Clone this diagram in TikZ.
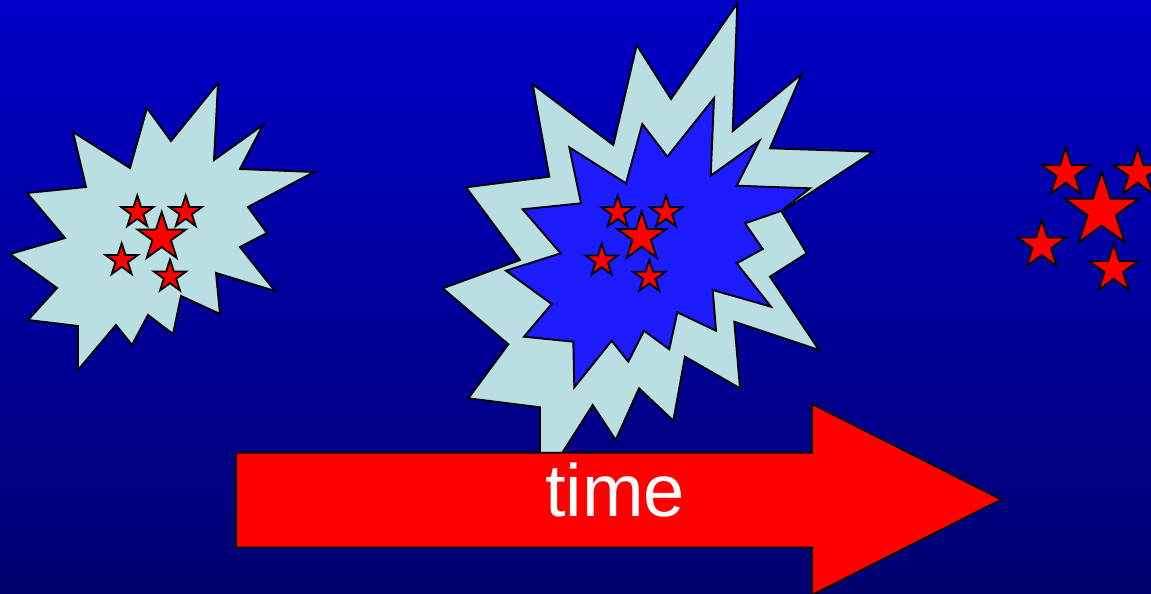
\documentclass[tikz,border=0pt]{standalone}
\usepackage{fontspec}
\setmainfont{Liberation Sans}
\usetikzlibrary{shapes.geometric}
\definecolor{bgtop}{RGB}{0,0,200}
\definecolor{bgbot}{RGB}{0,0,112}
\definecolor{blast}{RGB}{185,223,227}
\definecolor{core}{RGB}{28,28,255}
\definecolor{starred}{RGB}{255,0,0}
\tikzset{
  blastshape/.style={draw=black, line width=1.9pt, fill=blast, line join=miter},
  coreshape/.style={draw=black, line width=1.9pt, fill=core, line join=miter},
  starsmall/.style={star, star points=5, star point ratio=2.618, draw=black, fill=starred, line width=1.8pt, inner sep=0pt, minimum size=34pt},
  starbig/.style={starsmall, minimum size=51pt},
  starsmallR/.style={starsmall, minimum size=51pt},
  starbigR/.style={starsmall, minimum size=78pt},
  timearrow/.style={draw=black, line width=1.6pt, fill=starred},
}
\begin{document}
\begin{tikzpicture}[x=1pt,y=-1pt]
\useasboundingbox (0,0) rectangle (1151,594);
\shade[top color=bgtop, bottom color=bgbot] (0,0) rectangle (1151,594);

% left explosion
\draw[blastshape] (10,254) -- (65,238) -- (27,193) -- (86,187) -- (73,132) -- (130,168)
  -- (147,108) -- (171,141) -- (218,83) -- (214,160) -- (263,125) -- (240,169)
  -- (314,172) -- (248,207) -- (267,233) -- (240,247) -- (275,291) -- (216,273)
  -- (220,314) -- (181,296) -- (173,334) -- (148,315) -- (132,345) -- (116,325)
  -- (78,370) -- (78,326) -- (28,320) -- (57,288) -- cycle;
\node[starsmall] (l1) at (137.3,212.3) {};
\node[starsmall] (l2) at (185.7,212.3) {};
\node[starsmall] (l3) at (121.7,260.3) {};
\node[starsmall] (l4) at (170,276.7) {};
\node[starbig]   (l0) at (161.7,237.3) {};

% middle explosion
\draw[blastshape] (442.7,288.3) -- (508.3,344.3) -- (468.3,398.3) -- (540,407.3)
  -- (540,480) -- (545,480) -- (592.7,405) -- (615.7,440) -- (639,388.3) -- (673.3,420.7)
  -- (685,356.7) -- (740,388.3) -- (734.3,321.7) -- (819,350) -- (770,276.7)
  -- (806.7,253.3) -- (781.7,211.7) -- (873.3,151.7) -- (770,148.3) -- (801.7,74)
  -- (732.7,131) -- (737.3,3.3) -- (671,99) -- (636.7,45) -- (613.3,145)
  -- (532.7,84.3) -- (549.3,176.7) -- (466,187.3) -- (520,260) -- cycle;
\draw[coreshape] (506,270.7) -- (560.7,253.3) -- (522.7,209.3) -- (581,203.3)
  -- (569.3,147.3) -- (626,183.3) -- (642.3,124) -- (667.3,156.7) -- (714,98.3)
  -- (710.7,175.7) -- (759.3,141) -- (736.7,185.7) -- (810,188.3) -- (781.7,210.7)
  -- (745,223.3) -- (762.7,249) -- (736.7,263.3) -- (771,306.7) -- (712.7,290)
  -- (716,330.7) -- (677.3,312.3) -- (669.3,349.3) -- (644,330.7) -- (628.3,361.7)
  -- (611.7,340.7) -- (574.3,387.3) -- (573.3,341.7) -- (524,336.7) -- (551.7,304) -- cycle;
\node[starsmall] (m1) at (617.7,212.5) {};
\node[starsmall] (m2) at (666,212.5) {};
\node[starsmall] (m3) at (601.7,260.7) {};
\node[starsmall] (m4) at (649.3,277) {};
\node[starbig]   (m0) at (641.7,237) {};

% right stars
\node[starsmallR] (r1) at (1065.7,173) {};
\node[starsmallR] (r2) at (1137.7,173) {};
\node[starsmallR] (r3) at (1041.7,245.3) {};
\node[starsmallR] (r4) at (1113.7,269.2) {};
\node[starbigR]   (r0) at (1101.7,210.7) {};

% time arrow
\draw[timearrow] (236,452.7) -- (812,452.7) -- (812,404) -- (1001,499.5)
  -- (812,595) -- (812,547.3) -- (236,547.3) -- cycle;
\node[anchor=base, text=white, inner sep=0pt, font=\fontsize{74}{80}\selectfont] (time) at (615,516) {time};
\end{tikzpicture}
\end{document}
